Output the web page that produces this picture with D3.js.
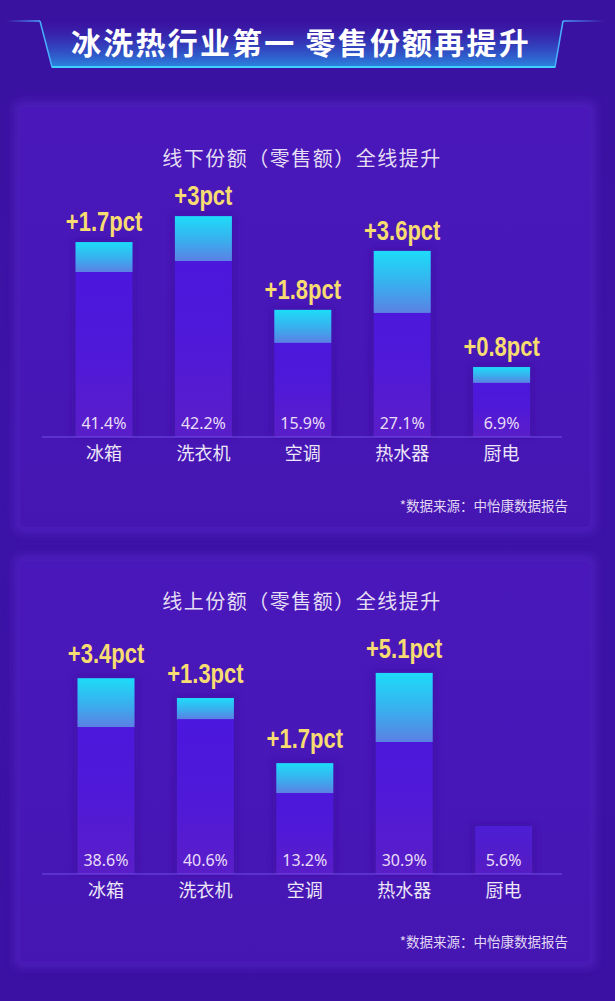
<!DOCTYPE html>
<html>
<head>
<meta charset="utf-8">
<script src="https://cdn.jsdelivr.net/npm/d3@7/dist/d3.min.js"></script>
<style>
  html, body { margin: 0; padding: 0; background: #3a12a2; }
  svg { display: block; }
</style>
</head>
<body>
<svg id="chart" width="615" height="1001"></svg>
<script>
// ---------- data ----------
const mainTitle = "冰洗热行业第一 零售份额再提升";
const categories = ["冰箱", "洗衣机", "空调", "热水器", "厨电"];

const offlineTitle = "线下份额（零售额）全线提升";
const offlineShare = [41.4, 42.2, 15.9, 27.1, 6.9];      // % share labels
const offlineGain  = [1.7, 3, 1.8, 3.6, 0.8];            // pct increase labels
// drawn heights (the infographic is not to scale)
const offlineBarLevel  = [44.3, 50.2, 28.9, 42.3, 15.9];
const offlineGainLevel = [6.8, 10.2, 7.5, 14.1, 3.6];

const onlineTitle = "线上份额（零售额）全线提升";
const onlineShare = [38.6, 40.6, 13.2, 30.9, 5.6];
const onlineGain  = [3.4, 1.3, 1.7, 5.1, null];
const onlineBarLevel  = [44.5, 40.0, 25.2, 45.7, 10.9];
const onlineGainLevel = [11.1, 4.8, 6.8, 15.7, 0];

const sourceNote = "*数据来源：中怡康数据报告";

// ---------- drawing ----------
const svg = d3.select("#chart");
const W = 615, H = 1001;
const CJK = "'Noto Sans CJK SC', 'Noto Sans', sans-serif";

const defs = svg.append("defs");

function linGrad(id, stops, x1 = 0, y1 = 0, x2 = 0, y2 = 1) {
  const g = defs.append("linearGradient").attr("id", id)
    .attr("x1", x1).attr("y1", y1).attr("x2", x2).attr("y2", y2);
  stops.forEach(s => g.append("stop").attr("offset", s[0])
    .attr("stop-color", s[1]).attr("stop-opacity", s[2] == null ? 1 : s[2]));
  return g;
}
linGrad("bgGrad", [[0, "#3a12a0"], [0.5, "#3c13a8"], [1, "#3a11a2"]]);
linGrad("panelGrad", [[0, "#4a18ba"], [0.5, "#4817b8"], [1, "#4616b2"]]);
linGrad("bannerGrad", [[0, "#3a2fb8", 0], [0.45, "#2f52c8", 0.55], [1, "#2b86e0", 1]]);
linGrad("cyanGrad", [[0, "#1ddcf8"], [0.55, "#3aaeee"], [1, "#5b80e4"]]);
linGrad("barGrad", [[0, "#4a16e0"], [0.6, "#5019d8"], [1, "#5a1ec8"]]);
linGrad("barGradDim", [[0, "#4c1ed4"], [1, "#561cc4"]]);
linGrad("stubL", [[0, "#4aa8ff", 0], [1, "#4aa8ff", 1]], 0, 0, 1, 0);
linGrad("stubR", [[0, "#4aa8ff", 1], [1, "#4aa8ff", 0]], 0, 0, 1, 0);

const blur = defs.append("filter").attr("id", "soft")
  .attr("x", "-10%").attr("y", "-10%").attr("width", "120%").attr("height", "120%");
blur.append("feGaussianBlur").attr("stdDeviation", 4);
const blur2 = defs.append("filter").attr("id", "soft2")
  .attr("x", "-30%").attr("y", "-30%").attr("width", "160%").attr("height", "160%");
blur2.append("feGaussianBlur").attr("stdDeviation", 3);

// background
svg.append("rect").attr("width", W).attr("height", H).attr("fill", "url(#bgGrad)");

// ---------- banner ----------
const banner = svg.append("g");
const bx0 = 40, bx1 = 52, bx2 = 555, bx3 = 563, by0 = 21, by1 = 67;
banner.append("path")
  .attr("d", `M${bx0},${by0} L${bx1},${by1} L${bx2},${by1} L${bx3},${by0} Z`)
  .attr("fill", "url(#bannerGrad)");
banner.append("path")
  .attr("d", `M${bx0},${by0} L${bx1},${by1} L${bx2},${by1} L${bx3},${by0}`)
  .attr("fill", "none").attr("stroke", "#48b0ff").attr("stroke-width", 1.5);
banner.append("line").attr("x1", bx1).attr("x2", bx2).attr("y1", by1).attr("y2", by1)
  .attr("stroke", "#3fd0ff").attr("stroke-width", 2.2);
banner.append("rect").attr("x", 6).attr("y", by0 - 0.75).attr("width", bx0 - 6).attr("height", 1.5)
  .attr("fill", "url(#stubL)");
banner.append("rect").attr("x", bx3).attr("y", by0 - 0.75).attr("width", 42).attr("height", 1.5)
  .attr("fill", "url(#stubR)");
banner.append("text")
  .attr("x", 301).attr("y", 41)
  .attr("text-anchor", "middle").attr("dominant-baseline", "central")
  .attr("font-family", CJK).attr("font-weight", 700).attr("font-size", 30)
  .attr("letter-spacing", 2.2)
  .attr("fill", "#ffffff")
  .text(mainTitle);

// ---------- panels ----------
const panels = [
  { title: offlineTitle, share: offlineShare, gain: offlineGain,
    level: offlineBarLevel, gainLevel: offlineGainLevel,
    top: 101, bottom: 533, titleY: 157, axisY: 437, xShift: 0,
    sourceY: 505, labelGap: 11 },
  { title: onlineTitle, share: onlineShare, gain: onlineGain,
    level: onlineBarLevel, gainLevel: onlineGainLevel,
    top: 555, bottom: 968, titleY: 600, axisY: 874, xShift: 2,
    sourceY: 941, labelGap: 15 }
];

const hScale = d3.scaleLinear().domain([0, 50]).range([0, 220]);

panels.forEach(p => {
  const g = svg.append("g");
  // panel background with soft edges
  g.append("rect")
    .attr("x", 14).attr("y", p.top).attr("width", 582).attr("height", p.bottom - p.top)
    .attr("rx", 6).attr("fill", "#5220c4").attr("opacity", 0.7).attr("filter", "url(#soft)");
  g.append("rect")
    .attr("x", 20).attr("y", p.top + 6).attr("width", 570).attr("height", p.bottom - p.top - 12)
    .attr("rx", 4).attr("fill", "url(#panelGrad)");

  // panel title
  g.append("text")
    .attr("x", 302).attr("y", p.titleY)
    .attr("text-anchor", "middle").attr("dominant-baseline", "central")
    .attr("font-family", CJK).attr("font-size", 20).attr("letter-spacing", 1.5)
    .attr("fill", "#e4def4")
    .text(p.title);

  const x = d3.scaleBand().domain(categories)
    .range([54.3 + p.xShift, 551.3 + p.xShift])
    .paddingInner(0.4266).paddingOuter(0.2133);

  const bars = g.selectAll("g.bar").data(categories).join("g").attr("class", "bar");

  // faint shadow behind bars
  bars.append("rect")
    .attr("x", c => x(c) - 3)
    .attr("y", (c, i) => p.axisY - hScale(p.level[i]) - 2)
    .attr("width", x.bandwidth() + 6)
    .attr("height", (c, i) => hScale(p.level[i]) + 2)
    .attr("fill", "#3a0f9c").attr("opacity", 0.55).attr("filter", "url(#soft2)");

  // bar body
  bars.append("rect")
    .attr("x", c => x(c))
    .attr("y", (c, i) => p.axisY - hScale(p.level[i]))
    .attr("width", x.bandwidth())
    .attr("height", (c, i) => hScale(p.level[i]))
    .attr("fill", (c, i) => p.gainLevel[i] > 0 ? "url(#barGrad)" : "url(#barGradDim)");

  // increment cap
  bars.filter((c, i) => p.gainLevel[i] > 0).append("rect")
    .attr("x", c => x(c))
    .attr("y", c => { const i = categories.indexOf(c); return p.axisY - hScale(p.level[i]); })
    .attr("width", x.bandwidth())
    .attr("height", c => hScale(p.gainLevel[categories.indexOf(c)]))
    .attr("fill", "url(#cyanGrad)");

  // gain labels
  bars.filter((c, i) => p.gain[i] != null).append("text")
    .attr("transform", c => {
      const i = categories.indexOf(c);
      const cx = x(c) + x.bandwidth() / 2;
      const y = p.axisY - hScale(p.level[i]) - p.labelGap;
      return `translate(${cx},${y}) scale(0.8,1)`;
    })
    .attr("text-anchor", "middle")
    .attr("font-family", "'Liberation Sans', Arial, sans-serif")
    .attr("font-weight", 700).attr("font-size", 27.5)
    .attr("fill", "#f7dc72")
    .text(c => "+" + p.gain[categories.indexOf(c)] + "pct");

  // share labels
  bars.append("text")
    .attr("x", c => x(c) + x.bandwidth() / 2)
    .attr("y", p.axisY - 8)
    .attr("text-anchor", "middle")
    .attr("font-family", "'Noto Sans', sans-serif").attr("font-size", 16)
    .attr("fill", "#e8ddf8")
    .text((c, i) => p.share[i] + "%");

  // axis line
  g.append("line")
    .attr("x1", 42).attr("x2", 562).attr("y1", p.axisY).attr("y2", p.axisY)
    .attr("stroke", "#7a5cf0").attr("stroke-width", 1.2).attr("opacity", 0.8);

  // category axis labels
  const axis = d3.axisBottom(x).tickSize(0).tickPadding(0);
  const ax = g.append("g").attr("transform", `translate(0,${p.axisY + 15})`).call(axis);
  ax.select(".domain").remove();
  ax.selectAll("text")
    .attr("dy", null).attr("y", 0)
    .attr("dominant-baseline", "central")
    .attr("font-family", CJK).attr("font-size", 18)
    .attr("fill", "#ece6f8");

  // source note
  g.append("text")
    .attr("x", 568).attr("y", p.sourceY)
    .attr("text-anchor", "end").attr("dominant-baseline", "central")
    .attr("font-family", CJK).attr("font-size", 13.5)
    .attr("fill", "#e0d8f4")
    .text(sourceNote);
});
</script>
</body>
</html>
